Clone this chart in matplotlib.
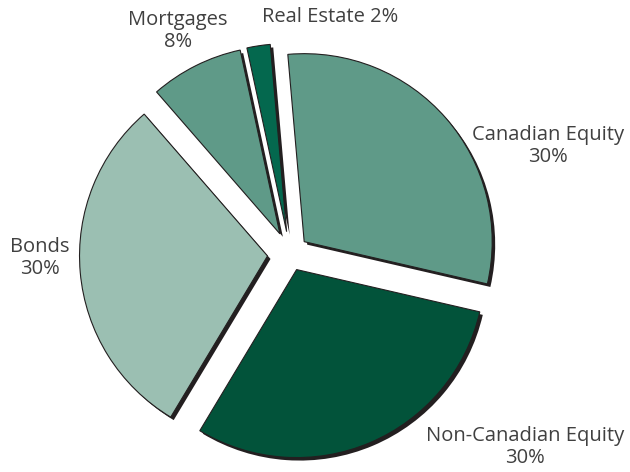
import matplotlib.pyplot as plt

# data
labels = ['Canadian Equity', 'Non-Canadian Equity', 'Bonds', 'Mortgages', 'Real Estate']
shares = [30, 30, 30, 8, 2]
colors = ['#5f9a88', '#02533a', '#9bbfb2', '#5f9a88', '#04684e']

# label text and where it sits (pixels of the 630x472 image)
label_text = ['Canadian Equity\n30%', 'Non-Canadian Equity\n30%', 'Bonds\n30%',
              'Mortgages\n8%', 'Real Estate 2%']
label_pos = [(548, 146), (525, 447), (40, 258), (178, 31), (330, 17)]

W, H = 630, 472
R = 188.0   # pie radius in pixels
cx, cy = 290, 254

plt.rcParams['font.family'] = ['Open Sans', 'DejaVu Sans']
fig = plt.figure(figsize=(6.3, 4.72), dpi=100)
ax = fig.add_axes([0, 0, 1, 1])

explode = [0.10, 0.09, 0.12, 0.12, 0.12]
off = 3 / R

# dark offset copy used as the drop shadow
ax.pie(shares, explode=explode, colors=['#231f20'] * len(shares),
       startangle=95, counterclock=False, center=(off, -off),
       wedgeprops=dict(linewidth=0))
ax.pie(shares, explode=explode, colors=colors,
       startangle=95, counterclock=False, center=(0, 0),
       wedgeprops=dict(edgecolor='#231f20', linewidth=0.8))

ax.set_xlim(-cx / R, (W - cx) / R)
ax.set_ylim(-(H - cy) / R, cy / R)
ax.set_aspect('equal')
ax.axis('off')

for txt, (px, py) in zip(label_text, label_pos):
    ax.text(px / W, 1 - py / H, txt, transform=ax.transAxes,
            ha='center', va='center', fontsize=14.5, color='#404040',
            linespacing=1.15)

fig.savefig('out.png', dpi=100)
